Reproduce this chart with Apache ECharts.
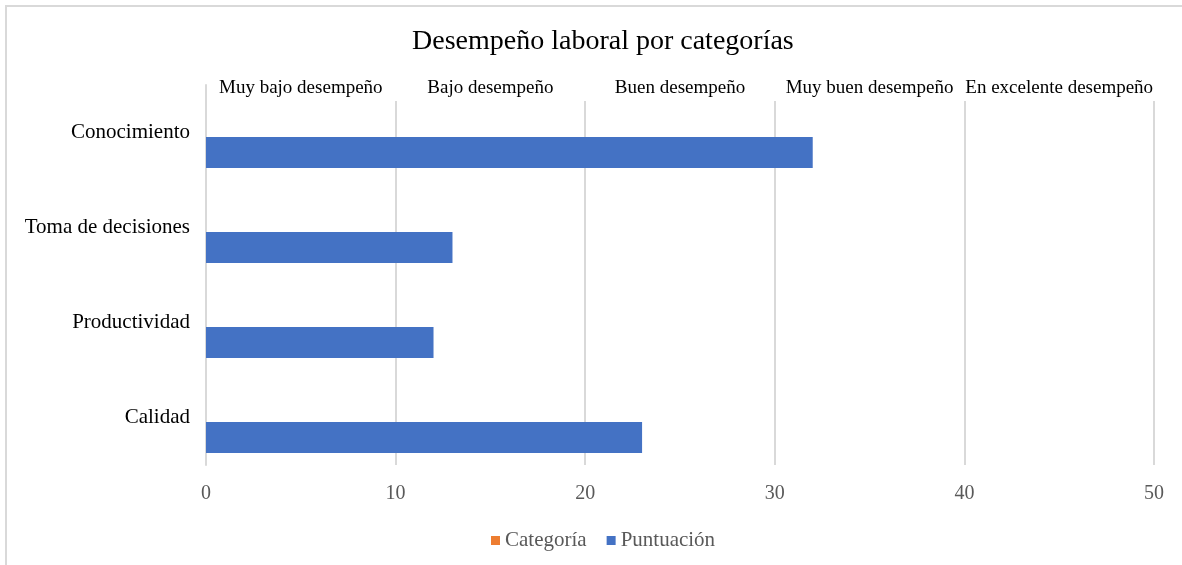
<!DOCTYPE html>
<html>
<head>
<meta charset="utf-8">
<script src="https://cdn.jsdelivr.net/npm/echarts@6/dist/echarts.min.js"></script>
<style>html,body{margin:0;padding:0;background:#fff}#c{width:1182px;height:565px}</style>
</head>
<body>
<div id="c"></div>
<script>
var categories = ['Calidad', 'Productividad', 'Toma de decisiones', 'Conocimiento'];
var puntuacion = [23, 12, 13, 32];
var categoria = [0, 0, 0, 0];
var bandLabels = ['Muy bajo desempeño', 'Bajo desempeño', 'Buen desempeño', 'Muy buen desempeño', 'En excelente desempeño'];
var xTicks = { min: 0, max: 50, interval: 10 };

var serif = '"Liberation Serif", "Times New Roman", serif';
var chart = echarts.init(document.getElementById('c'));
chart.setOption({
  animation: false,
  backgroundColor: '#fff',
  graphic: [{
    type: 'rect', shape: { x: 6, y: 6, width: 1300, height: 700 },
    style: { fill: 'none', stroke: '#d9d9d9', lineWidth: 2 }, silent: true, z: -10
  }],
  title: {
    text: 'Desempeño laboral por categorías', left: 407, top: 23,
    textStyle: { fontFamily: serif, fontSize: 28, fontWeight: 'normal', color: '#000' }
  },
  legend: {
    data: ['Categoría', 'Puntuación'], bottom: 9, left: 486,
    icon: 'rect', itemWidth: 9, itemHeight: 9, itemGap: 20,
    textStyle: { fontFamily: serif, fontSize: 21, color: '#595959' }
  },
  grid: [
    { left: 206, right: 28, top: 85, bottom: 100 },
    { left: 206, right: 28, top: 101, bottom: 100 }
  ],
  xAxis: [
    { type: 'value', gridIndex: 0, min: xTicks.min, max: xTicks.max, interval: xTicks.interval,
      axisLine: { show: false }, axisTick: { show: false }, splitLine: { show: false },
      axisLabel: { margin: 19, fontFamily: serif, fontSize: 20, color: '#595959' } },
    { type: 'category', gridIndex: 0, position: 'top', data: bandLabels,
      axisLine: { show: false }, axisTick: { show: false }, splitLine: { show: false },
      axisLabel: { inside: true, interval: 0, margin: 3, verticalAlign: 'middle', fontFamily: serif, fontSize: 19, color: '#000' } },
    { type: 'value', gridIndex: 1, min: xTicks.min, max: xTicks.max, interval: xTicks.interval,
      axisLine: { show: false }, axisTick: { show: false }, axisLabel: { show: false },
      splitLine: { show: true, lineStyle: { color: '#d9d9d9', width: 2 } } }
  ],
  yAxis: [
    { type: 'category', gridIndex: 0, data: categories,
      axisLine: { show: true, lineStyle: { color: '#d9d9d9', width: 2 } },
      axisTick: { show: false },
      axisLabel: { margin: 16, fontFamily: serif, fontSize: 21, color: '#000', verticalAlign: 'middle' } },
    { type: 'category', gridIndex: 1, data: categories, show: false }
  ],
  series: [
    { name: 'Categoría', type: 'bar', xAxisIndex: 0, yAxisIndex: 0, data: categoria,
      barWidth: 31, barGap: '29%', itemStyle: { color: '#ED7D31' } },
    { name: 'Puntuación', type: 'bar', xAxisIndex: 0, yAxisIndex: 0, data: puntuacion,
      barWidth: 31, barGap: '29%', itemStyle: { color: '#4472C4' } }
  ]
});
</script>
</body>
</html>
